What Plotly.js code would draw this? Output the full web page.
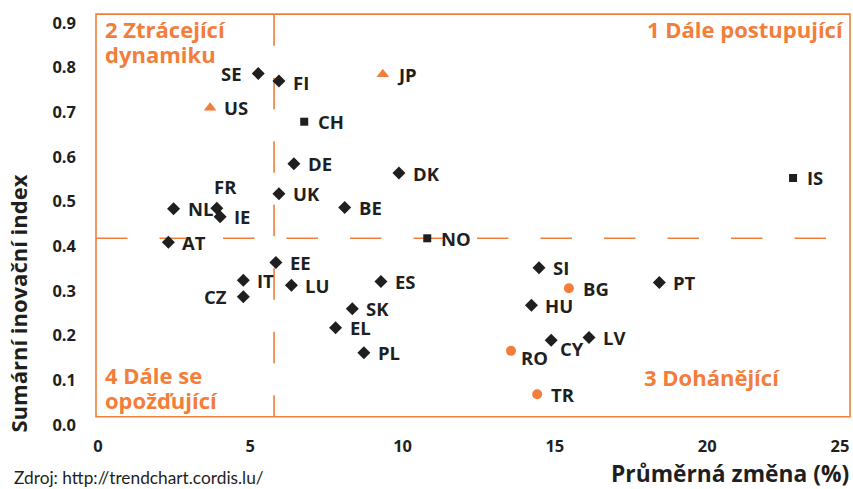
<!DOCTYPE html>
<html>
<head>
<meta charset="utf-8">
<script src="https://cdn.plot.ly/plotly-3.0.1.min.js"></script>
<style>html,body{margin:0;padding:0;background:#fff;}#chart{width:853px;height:489px;}</style>
</head>
<body>
<div id="chart"></div>
<script>
// EU member states (diamonds)
const euCodes = ["SE","FI","DE","DK","UK","BE","NL","FR","IE","AT","EE","IT","CZ","LU","ES","SK","EL","PL","SI","HU","PT","CY","LV"];
const euX = [5.26,5.94,6.43,9.88,5.94,8.10,2.48,3.90,4.01,2.31,5.84,4.77,4.77,6.35,9.29,8.35,7.80,8.73,14.48,14.23,18.43,14.88,16.12];
const euY = [0.787,0.770,0.585,0.564,0.518,0.487,0.484,0.485,0.466,0.409,0.364,0.324,0.287,0.313,0.321,0.260,0.218,0.162,0.352,0.268,0.319,0.190,0.196];
// Other European countries (squares)
const otherCodes = ["CH","NO","IS"];
const otherX = [6.77,10.81,22.82];
const otherY = [0.679,0.418,0.553];
// US and Japan (triangles)
const triCodes = ["US","JP"];
const triX = [3.68,9.35];
const triY = [0.710,0.785];
// Candidate countries (circles)
const candCodes = ["BG","RO","TR"];
const candX = [15.46,13.56,14.42];
const candY = [0.306,0.166,0.069];
// Quadrant dividers
const divX = 5.78;
const divY = 0.418;
// Axis ticks
const xTickVals = [0,5,10,15,20,24.36];
const xTickText = ["0","5","10","15","20","25"];
const yTickVals = [0,0.1,0.2,0.3,0.4,0.5,0.6,0.7,0.8,0.9];
const yTickText = ["0.0","0.1","0.2","0.3","0.4","0.5","0.6","0.7","0.8","0.9"];

const ORANGE = "#F37D3A";
const DARK = "#1f1f1f";
const FONT = "'Open Sans', Lato, sans-serif";
const FONT_REG = "Lato, 'Open Sans', sans-serif";
const b = s => "<b>" + s + "</b>";

// label placement overrides (style only)
const labelStyle = {
  SE:{side:"left"}, CZ:{side:"left"},
  FR:{dx:9, dy:-22, center:true},
  CY:{dx:7, dy:8}, RO:{dx:8, dy:7}, FI:{dy:1}
};

function trace(x, y, symbol, color, size, name){
  return {type:"scatter", mode:"markers", x:x, y:y, name:name,
    marker:{symbol:symbol, color:color, size:size, line:{width:0}},
    hoverinfo:"skip", showlegend:false, cliponaxis:false};
}
const data = [
  trace(euX, euY, "diamond", DARK, 10, "EU"),
  trace(otherX, otherY, "square", DARK, 8, "other"),
  trace(triX, triY, "triangle-up", ORANGE, 11, "US/JP"),
  trace(candX, candY, "circle", ORANGE, 10, "candidates")
];

const annotations = [];
function addLabels(codes, xs, ys){
  codes.forEach((c,i)=>{
    const s = labelStyle[c] || {};
    let a = {x:xs[i], y:ys[i], xref:"x", yref:"y", text:b(c), showarrow:false,
      font:{family:FONT, size:18.5, color:DARK, weight:"bold"}, yanchor:"middle"};
    if (s.side === "left"){ a.xanchor = "right"; a.xshift = -14; }
    else if (s.center){ a.xanchor = "center"; a.xshift = s.dx; }
    else { a.xanchor = "left"; a.xshift = (s.dx !== undefined ? s.dx : 12); }
    a.yshift = -(s.dy || 0);
    annotations.push(a);
  });
}
addLabels(euCodes, euX, euY);
addLabels(otherCodes, otherX, otherY);
addLabels(triCodes, triX, triY);
addLabels(candCodes, candX, candY);

const qFont = {family:FONT, size:22, color:ORANGE, weight:"bold"};
function q(text, x, y, xanchor){
  return {xref:"paper", yref:"paper", x:x, y:y, xanchor:xanchor, yanchor:"middle",
    text:b(text), showarrow:false, font:qFont, borderpad:0};
}
annotations.push(
  q("2 Ztrácející", 0.011, 0.984, "left"),
  q("dynamiku", 0.011, 0.922, "left"),
  q("1 Dále postupující", 0.993, 0.984, "right"),
  q("4 Dále se", 0.011, 0.124, "left"),
  q("opožďující", 0.011, 0.062, "left"),
  q("3 Dohánějící", 0.726, 0.119, "left"),
  {xref:"paper", yref:"paper", x:-0.103, y:0.303, xanchor:"center", yanchor:"middle", textangle:-90,
   text:b("Sumární inovační index"), showarrow:false, font:{family:FONT, size:22, color:DARK, weight:"bold"}},
  {xref:"paper", yref:"paper", x:1.0, y:-0.12, xanchor:"right", yanchor:"middle", borderpad:0,
   text:b("Průměrná změna (%)"), showarrow:false, font:{family:FONT, size:22.8, color:DARK, weight:"bold"}},
  {xref:"paper", yref:"paper", x:-0.112, y:-0.131, xanchor:"left", yanchor:"middle",
   text:"Zdroj: http://trendchart.cordis.lu/", showarrow:false, font:{family:FONT_REG, size:17.3, color:DARK}}
);

const frameY0 = 0.0206, frameY1 = 1.022;
const shapes = [
  {type:"rect", xref:"paper", yref:"paper", x0:0, x1:1, y0:frameY0, y1:frameY1,
   line:{color:ORANGE, width:1.6}, layer:"below"},
  {type:"line", xref:"x", yref:"paper", x0:divX, x1:divX, y0:frameY1, y1:frameY0,
   line:{color:ORANGE, width:1.6, dash:"31.5px,32px"}, layer:"below"},
  {type:"line", xref:"paper", yref:"y", x0:0, x1:1, y0:divY, y1:divY,
   line:{color:ORANGE, width:1.6, dash:"31.5px,32px"}, layer:"below"}
];

const layout = {
  width:853, height:489,
  margin:{l:96, r:3, t:23, b:64},
  paper_bgcolor:"#fff", plot_bgcolor:"#fff",
  showlegend:false,
  xaxis:{range:[-0.066,24.69], tickvals:xTickVals, ticktext:xTickText.map(b),
    showgrid:false, zeroline:false, showline:false, ticks:"", ticklabelstandoff:9,
    tickfont:{family:FONT, size:16.5, color:DARK, weight:"bold"}, fixedrange:true},
  yaxis:{range:[0,0.9], tickvals:yTickVals, ticktext:yTickText.map(b),
    showgrid:false, zeroline:false, showline:false, ticks:"", ticklabelstandoff:19,
    tickfont:{family:FONT, size:16.5, color:DARK, weight:"bold"}, fixedrange:true},
  shapes:shapes,
  annotations:annotations
};

Plotly.newPlot("chart", data, layout, {staticPlot:true, displayModeBar:false});
</script>
</body>
</html>
